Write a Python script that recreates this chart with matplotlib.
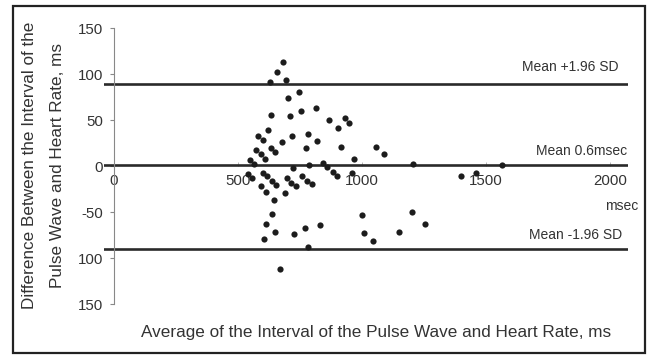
import matplotlib
matplotlib.use("Agg")
import matplotlib.pyplot as plt
from matplotlib.patches import Rectangle

plt.rcParams['font.family'] = ['Liberation Sans', 'DejaVu Sans']

avg_ms = [683, 656, 629, 692, 746, 700, 815, 755, 632, 711, 868, 931, 948, 905,
          622, 579, 600, 720, 782, 677, 819, 571, 633, 592, 650, 609, 773, 915,
          1056, 1090, 969, 547, 565, 845, 724, 786, 860, 1207, 1566, 1401, 1461,
          961, 882, 899, 539, 558, 602, 618, 636, 655, 592, 612, 647, 699, 714,
          734, 690, 759, 778, 797, 638, 613, 649, 605, 727, 771, 832, 781, 668,
          999, 1010, 1044, 1149, 1202, 1254]
diff_ms = [113, 102, 91, 93, 80, 74, 63, 60, 55, 54, 50, 52, 47, 41,
           39, 33, 28, 33, 35, 26, 27, 17, 20, 13, 15, 8, 20, 21,
           21, 13, 8, 6, 2, 3, -2, 1, -1, 2, 1, -11, -8,
           -8, -7, -11, -9, -13, -8, -11, -16, -21, -22, -28, -37, -13, -18,
           -22, -29, -11, -16, -20, -52, -63, -72, -79, -74, -67, -64, -88, -112,
           -53, -73, -82, -72, -50, -63]

mean_line = 0.6
upper_loa = 89.5
lower_loa = -90.5
line_labels = ["Mean +1.96 SD", "Mean 0.6msec", "Mean -1.96 SD"]

x_ticks = [0, 500, 1000, 1500, 2000]
x_ticklabels = ["0", "500", "1000", "1500", "2000"]
y_ticks = [150, 100, 50, 0, -50, -100, -150]
y_ticklabels = ["150", "100", "50", "0", "-50", "100", "150"]

xlabel = "Average of the Interval of the Pulse Wave and Heart Rate, ms"
ylabel1 = "Difference Between the Interval of the"
ylabel2 = "Pulse Wave and Heart Rate, ms"

W, H = 650, 356
fig = plt.figure(figsize=(6.5, 3.56), dpi=100)
ax = fig.add_axes([104 / W, 1 - 304 / H, 524 / W, 276 / H])

dark = "#1c1c1c"
txt = "#333333"

for yv in [upper_loa, mean_line, lower_loa]:
    ax.axhline(yv, color="#2a2a2a", lw=1.9, zorder=2)

ax.scatter(avg_ms, diff_ms, s=20, color=dark, zorder=3, linewidths=0)

ax.set_xlim(-40, 2073)
ax.set_ylim(-150, 150)

for s in ["top", "right"]:
    ax.spines[s].set_visible(False)
ax.spines["left"].set_position(("data", 0))
ax.spines["left"].set_color("#888888")
ax.spines["left"].set_linewidth(0.8)
ax.spines["bottom"].set_position(("data", 0))
ax.spines["bottom"].set_visible(False)

ax.set_yticks(y_ticks)
ax.set_yticklabels(y_ticklabels)
ax.set_xticks(x_ticks)
ax.set_xticklabels(x_ticklabels)
ax.tick_params(axis="y", direction="out", length=3, color="#888888", width=0.8,
               labelsize=10.8, labelcolor=txt, pad=5)
ax.tick_params(axis="x", direction="in", length=3, color="#aaaaaa", width=0.6,
               labelsize=10.8, labelcolor=txt, pad=6)

ax.text(2036, 107.5, line_labels[0], ha="right", va="center", fontsize=10, color=txt)
ax.text(2069, 16, line_labels[1], ha="right", va="center", fontsize=10, color=txt)
ax.text(2048, -75, line_labels[2], ha="right", va="center", fontsize=10, color=txt)
ax.text(2113, -43, "msec", ha="right", va="center", fontsize=10, color=txt, clip_on=False)

fig.text(376 / W, 1 - 332 / H, xlabel, ha="center", va="center", fontsize=12.3, color=txt)
fig.text(30 / W, 1 - 165 / H, ylabel1, ha="center", va="center", rotation=90,
         fontsize=12.3, color=txt)
fig.text(58 / W, 1 - 165 / H, ylabel2, ha="center", va="center", rotation=90,
         fontsize=12.3, color=txt)

fig.patches.append(Rectangle((13 / W, 1 - 353 / H), (645 - 13) / W, (353 - 6) / H,
                             transform=fig.transFigure, fill=False,
                             edgecolor="#222222", lw=1.6))

fig.savefig("out.png", dpi=100)
